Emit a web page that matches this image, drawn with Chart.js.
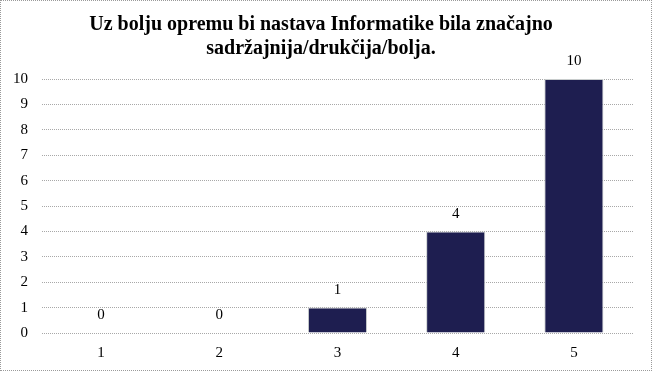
<!DOCTYPE html>
<html lang="en">
<head>
  <meta charset="UTF-8" />
  <title>Uz bolju opremu</title>
  <script src="https://cdn.jsdelivr.net/npm/chart.js@4"></script>
  <style>
    html, body { margin: 0; padding: 0; background: #fff; }
    #wrap { width: 652px; height: 371px; box-sizing: border-box; border: 1px dotted #9a9a9a; position: relative; }
    canvas { display: block; }
  </style>
</head>
<body>
  <div id="wrap"><canvas id="chart" width="650" height="369"></canvas></div>
  <script>
    const categories = ['1', '2', '3', '4', '5'];
    const counts = [0, 0, 1, 4, 10];
    const titleLines = ['Uz bolju opremu bi nastava Informatike bila značajno', 'sadržajnija/drukčija/bolja.'];
    const serif = '"Liberation Serif", "Times New Roman", serif';

    // value labels over each bar
    const valueLabels = {
      id: 'valueLabels',
      afterDatasetsDraw(chart) {
        const ctx = chart.ctx;
        const meta = chart.getDatasetMeta(0);
        ctx.save();
        ctx.font = '15px ' + serif;
        ctx.fillStyle = '#000';
        ctx.textAlign = 'center';
        ctx.textBaseline = 'bottom';
        meta.data.forEach((bar, i) => {
          ctx.fillText(String(counts[i]), bar.x, bar.y - 10);
        });
        ctx.restore();
      }
    };

    new Chart(document.getElementById('chart'), {
      type: 'bar',
      data: {
        labels: categories,
        datasets: [{
          data: counts,
          backgroundColor: '#1e1e50',
          borderColor: '#c8cccc',
          borderWidth: 1,
          categoryPercentage: 1,
          barPercentage: 0.5
        }]
      },
      options: {
        responsive: false,
        animation: false,
        layout: { padding: { left: 8, right: 18, top: 12, bottom: 5 } },
        plugins: {
          legend: { display: false },
          tooltip: { enabled: false },
          title: {
            display: true,
            text: titleLines,
            color: '#000',
            font: { family: serif, size: 20, weight: 'bold', lineHeight: 1.2 },
            padding: { top: 0, bottom: 18 }
          }
        },
        scales: {
          x: {
            grid: { display: false },
            border: { display: false },
            ticks: { color: '#000', font: { family: serif, size: 15 }, padding: 3 }
          },
          y: {
            min: 0,
            max: 10,
            afterFit(scale) { scale.width = 33; },
            ticks: { stepSize: 1, color: '#000', font: { family: serif, size: 15 }, padding: 14 },
            grid: { color: '#a8a8a8', lineWidth: 1, drawTicks: false },
            border: { display: false, dash: [1, 1] }
          }
        }
      },
      plugins: [valueLabels]
    });
  </script>
</body>
</html>
